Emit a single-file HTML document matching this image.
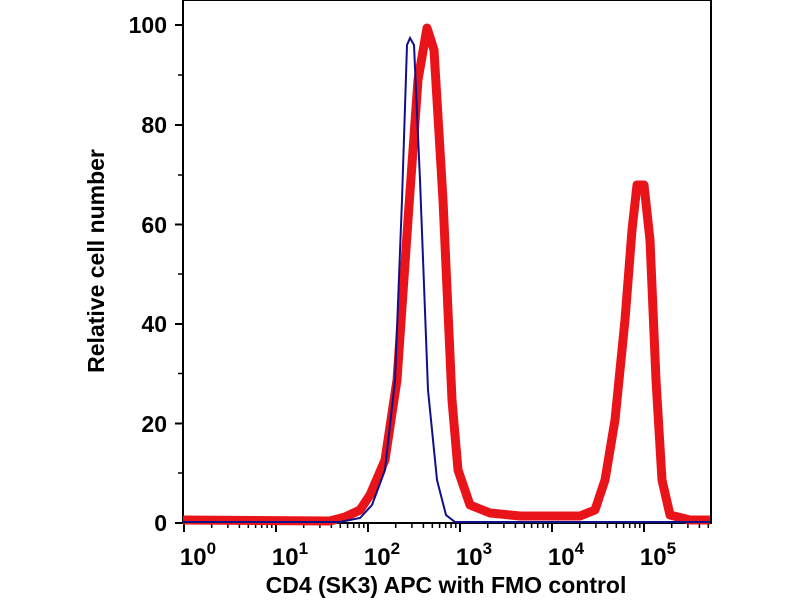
<!DOCTYPE html>
<html><head><style>body{margin:0;background:#fff}</style></head><body>
<svg width="800" height="600" xmlns="http://www.w3.org/2000/svg" font-family="Liberation Sans, Arial, sans-serif" font-weight="bold">
<rect x="183" y="0" width="528" height="523" fill="none" stroke="#000" stroke-width="2"/>
<g stroke="#000" stroke-width="2">
<line x1="175" y1="523" x2="183" y2="523"/><line x1="175" y1="423.5" x2="183" y2="423.5"/>
<line x1="175" y1="324" x2="183" y2="324"/><line x1="175" y1="224.5" x2="183" y2="224.5"/>
<line x1="175" y1="125" x2="183" y2="125"/><line x1="175" y1="25" x2="183" y2="25"/>
</g>
<g stroke="#000" stroke-width="1.5">
<line x1="178" y1="473" x2="183" y2="473"/><line x1="178" y1="373.5" x2="183" y2="373.5"/>
<line x1="178" y1="274" x2="183" y2="274"/><line x1="178" y1="175" x2="183" y2="175"/>
<line x1="178" y1="75" x2="183" y2="75"/>
</g>
<g font-size="23" text-anchor="end">
<text x="167" y="531">0</text><text x="167" y="432">20</text><text x="167" y="332">40</text>
<text x="167" y="233">60</text><text x="167" y="133">80</text><text x="167" y="33">100</text>
</g>
<g stroke="#000" stroke-width="2">
<line x1="184" y1="523" x2="184" y2="532"/><line x1="276" y1="523" x2="276" y2="532"/>
<line x1="368" y1="523" x2="368" y2="532"/><line x1="460" y1="523" x2="460" y2="532"/>
<line x1="552" y1="523" x2="552" y2="532"/><line x1="644" y1="523" x2="644" y2="532"/>
</g>
<g stroke="#000" stroke-width="1.5">
<path d="M211.7 523v5M227.9 523v5M239.4 523v5M248.3 523v5M255.6 523v5M261.7 523v5M267.1 523v5M271.8 523v5
M303.7 523v5M319.9 523v5M331.4 523v5M340.3 523v5M347.6 523v5M353.7 523v5M359.1 523v5M363.8 523v5
M395.7 523v5M411.9 523v5M423.4 523v5M432.3 523v5M439.6 523v5M445.7 523v5M451.1 523v5M455.8 523v5
M487.7 523v5M503.9 523v5M515.4 523v5M524.3 523v5M531.6 523v5M537.7 523v5M543.1 523v5M547.8 523v5
M579.7 523v5M595.9 523v5M607.4 523v5M616.3 523v5M623.6 523v5M629.7 523v5M635.1 523v5M639.8 523v5
M671.7 523v5M687.9 523v5M699.4 523v5M708.3 523v5"/>
</g>
<g font-size="24" text-anchor="middle">
<text x="198" y="565">10<tspan font-size="17" dy="-11">0</tspan></text>
<text x="290" y="565">10<tspan font-size="17" dy="-11">1</tspan></text>
<text x="382" y="565">10<tspan font-size="17" dy="-11">2</tspan></text>
<text x="474" y="565">10<tspan font-size="17" dy="-11">3</tspan></text>
<text x="566" y="565">10<tspan font-size="17" dy="-11">4</tspan></text>
<text x="658" y="565">10<tspan font-size="17" dy="-11">5</tspan></text>
</g>
<text x="446" y="593" font-size="23" text-anchor="middle">CD4 (SK3) APC with FMO control</text>
<text transform="translate(104,261) rotate(-90)" font-size="23" text-anchor="middle">Relative cell number</text>
<polyline fill="none" stroke="#e8141a" stroke-width="9" stroke-linejoin="round" points="183,520 330,521 345,517 360,510 370,495 385,460 397,380 408,220 418,80 427,28 434,50 443,200 452,400 458,470 470,505 490,513 520,516 580,516 595,510 605,480 615,420 625,320 632,230 637,185 644,185 650,240 656,380 662,480 670,515 690,520 710,520"/>
<polyline fill="none" stroke="#10108a" stroke-width="2" points="183,522 340,522 360,518 372,505 385,470 395,380 402,200 407,45 410,38 414,45 420,180 428,390 437,480 446,515 455,522 710,522"/>
</svg>
</body></html>
